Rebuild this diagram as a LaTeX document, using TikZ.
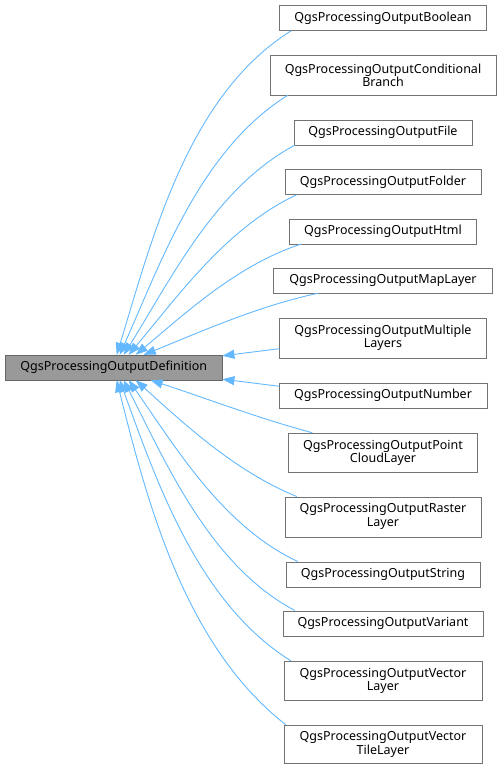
\documentclass[tikz,border=0pt]{standalone}
\usepackage{fontspec}
\setmainfont{Noto Sans}
\usetikzlibrary{arrows.meta}
\definecolor{edgeblue}{HTML}{63B8FF}
\tikzstyle{cls} = [draw=black!55, fill=white, align=center, inner sep=0pt, minimum height=25pt, font=\fontsize{12.5}{13.8}\selectfont]
\tikzstyle{base} = [cls, draw=black!60, fill=black!40]
\tikzstyle{inh} = [draw=edgeblue, line width=0.9pt, -{Triangle[length=12pt,width=9pt]}]

\begin{document}
\begin{tikzpicture}[x=1pt,y=-1pt]
        \useasboundingbox (0,0) rectangle (501,770);
        \node (def) [base, minimum width=217pt] at (113.7,367.5) {QgsProcessingOutputDefinition};
        \node (bool) [cls, minimum width=207pt] at (383,18) {QgsProcessingOutputBoolean};
        \node (cond) [cls, minimum width=226pt, minimum height=39.5pt] at (383,75.3) {QgsProcessingOutputConditional\\Branch};
        \node (file) [cls, minimum width=178pt] at (383,132.5) {QgsProcessingOutputFile};
        \node (folder) [cls, minimum width=196pt] at (383,182) {QgsProcessingOutputFolder};
        \node (html) [cls, minimum width=187pt] at (383,231.3) {QgsProcessingOutputHtml};
        \node (map) [cls, minimum width=219pt] at (383,280.5) {QgsProcessingOutputMapLayer};
        \node (multi) [cls, minimum width=207pt, minimum height=40pt] at (383,337.7) {QgsProcessingOutputMultiple\\Layers};
        \node (number) [cls, minimum width=208pt] at (383,395.2) {QgsProcessingOutputNumber};
        \node (cloud) [cls, minimum width=189pt, minimum height=39.7pt] at (383,452.8) {QgsProcessingOutputPoint\\CloudLayer};
        \node (raster) [cls, minimum width=196pt, minimum height=40pt] at (383,516.7) {QgsProcessingOutputRaster\\Layer};
        \node (string) [cls, minimum width=194pt] at (383,574.2) {QgsProcessingOutputString};
        \node (variant) [cls, minimum width=200pt] at (383,623.2) {QgsProcessingOutputVariant};
        \node (vector) [cls, minimum width=198pt, minimum height=39.7pt] at (383,680.8) {QgsProcessingOutputVector\\Layer};
        \node (tile) [cls, minimum width=198pt, minimum height=38.7pt] at (383,744.3) {QgsProcessingOutputVector\\TileLayer};
        \draw[inh] ([xshift=12pt]bool.south west) to[out=212,in=73,looseness=0.85] ([xshift=3pt]def.north);
        \draw[inh] ([xshift=18pt]cond.south west) to[out=212,in=66,looseness=0.85] ([xshift=6pt]def.north);
        \draw[inh] ([xshift=1pt]file.south west) to[out=208,in=58,looseness=0.85] ([xshift=10pt]def.north);
        \draw[inh] ([xshift=12pt]folder.south west) to[out=205,in=50,looseness=0.85] ([xshift=15pt]def.north);
        \draw[inh] ([xshift=12pt]html.south west) to[out=198,in=40,looseness=0.85] ([xshift=22pt]def.north);
        \draw[inh] ([xshift=45pt]map.south west) to[out=192,in=22,looseness=0.85] ([xshift=30pt]def.north);
        \draw[inh] ([yshift=-11pt]multi.west) -- ([yshift=-1pt]def.north east);
        \draw[inh] ([yshift=9pt]number.west) -- ([yshift=1pt]def.south east);
        \draw[inh] ([xshift=24pt]cloud.north west) to[out=165,in=-18,looseness=0.85] ([xshift=37pt]def.south);
        \draw[inh] ([xshift=12pt]raster.north west) to[out=158,in=-42,looseness=0.85] ([xshift=22pt]def.south);
        \draw[inh] ([xshift=12pt]string.north west) to[out=155,in=-55,looseness=0.85] ([xshift=15pt]def.south);
        \draw[inh] ([xshift=12pt]variant.north west) to[out=152,in=-63,looseness=0.85] ([xshift=10pt]def.south);
        \draw[inh] ([xshift=7pt]vector.north west) to[out=148,in=-70,looseness=0.85] ([xshift=6pt]def.south);
        \draw[inh] ([xshift=2pt]tile.north west) to[out=142,in=-76,looseness=0.85] ([xshift=3pt]def.south);
    \end{tikzpicture}
\end{document}
